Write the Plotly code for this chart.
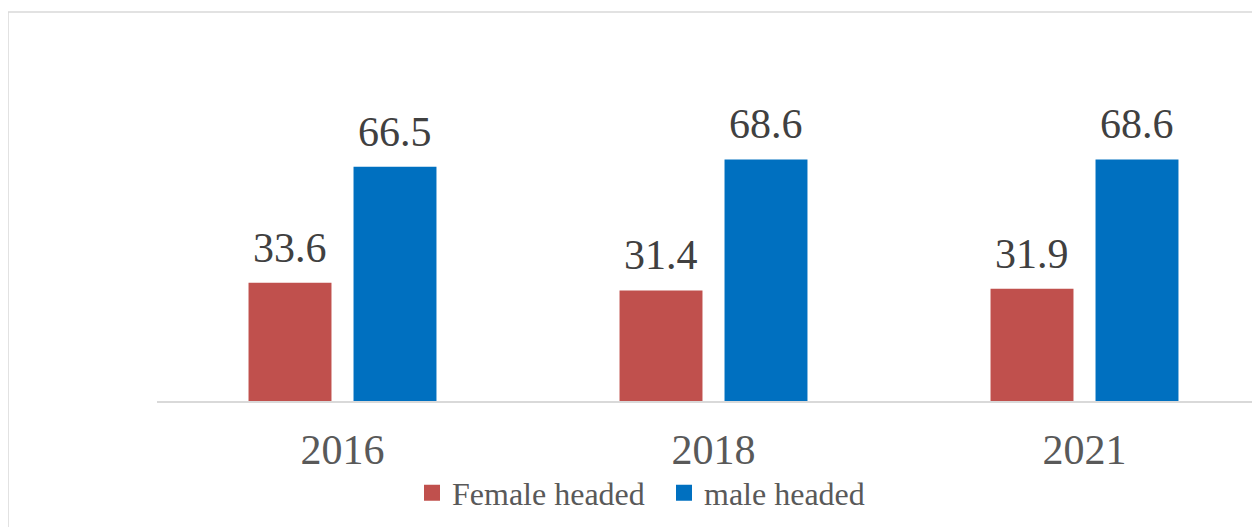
import plotly.graph_objects as go

years = ["2016", "2018", "2021"]
female = [33.6, 31.4, 31.9]
male = [66.5, 68.6, 68.6]
series_names = ["Female headed", "male headed"]
colors = ["#C0504D", "#0070C0"]

FONT = "Liberation Serif"
OFF = 8  # page body margin in the browser
W, H = 1260, 527
L, R, T = 157 - OFF, 0, 84 - OFF
BOTTOM = 401 - OFF
B = H - BOTTOM
pw = W - L - R
ph = BOTTOM - T
CAT = 371.0
SLOT = 0.283 * CAT

fig = go.Figure()
for name, vals, col in zip(series_names, [female, male], colors):
    fig.add_trace(go.Bar(
        x=years, y=vals, name=name, marker=dict(color=col, line=dict(width=0)),
        showlegend=False,
    ))
for name, col in zip(series_names, colors):
    fig.add_trace(go.Scatter(
        x=[None], y=[None], mode="markers", name=name,
        marker=dict(symbol="square", size=16, color=col),
    ))

# data labels (x given as category index)
for i, vals in enumerate([female, male]):
    shift = (i - 0.5) * SLOT
    for j, v in enumerate(vals):
        fig.add_annotation(x=j, y=v, text=f"{v:.1f}", showarrow=False,
                           xanchor="center", yanchor="bottom", xshift=shift, yshift=10,
                           font=dict(family=FONT, size=42, color="#404040"))

# chart border (top and left visible)
fig.add_shape(type="rect", xref="paper", yref="paper",
              x0=(8 - OFF - L) / pw, x1=1.2, y0=-0.6, y1=(BOTTOM - (12 - OFF)) / ph,
              line=dict(color="#D9D9D9", width=1.5), layer="below")

fig.update_layout(
    width=W, height=H,
    margin=dict(l=L, r=R, t=T, b=B, autoexpand=False),
    paper_bgcolor="white", plot_bgcolor="white",
    barmode="group", bargap=0.434, bargroupgap=0.21,
    font=dict(family=FONT, color="#595959"),
    xaxis=dict(type="category", range=[-0.5, pw / CAT - 0.5],
               showline=True, linecolor="#D9D9D9", linewidth=1.5,
               showgrid=False, ticks="", tickfont=dict(family=FONT, size=42, color="#595959"),
               ticklabelstandoff=11),
    yaxis=dict(range=[0, 90], visible=False, showgrid=False, zeroline=False),
    legend=dict(orientation="h", x=(412 - OFF - L) / pw, xanchor="left",
                y=(BOTTOM - (493 - OFF)) / ph, yanchor="middle",
                font=dict(family=FONT, size=32, color="#595959"), entrywidth=207,
                entrywidthmode="pixels", bgcolor="rgba(0,0,0,0)"),
)

fig.write_html("out.html")
